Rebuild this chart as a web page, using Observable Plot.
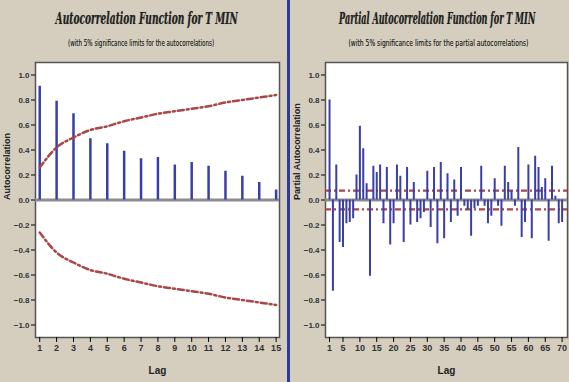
<!DOCTYPE html>
<html>
<head>
<meta charset="utf-8">
<script src="https://cdn.jsdelivr.net/npm/d3@7"></script>
<script src="https://cdn.jsdelivr.net/npm/@observablehq/plot@0.6"></script>
<style>
  html, body { margin: 0; padding: 0; }
  #root { position: relative; width: 569px; height: 382px; background: #d5cebf; overflow: hidden; font-family: "Liberation Sans", Arial, sans-serif; }
  .ttl { position: absolute; white-space: nowrap; font-family: "DejaVu Serif Condensed", "DejaVu Serif", "Liberation Serif", serif; font-weight: bold; font-style: italic; font-size: 17px; color: #222; transform-origin: center center; text-shadow: 0 0 1px rgba(0,0,0,0.35); }
  .sub { position: absolute; white-space: nowrap; font-family: "DejaVu Sans Condensed", "Liberation Sans", Arial, sans-serif; font-size: 9px; color: #222; transform-origin: center center; text-shadow: 0 0 0.5px rgba(0,0,0,0.4); }
  .panel { position: absolute; top: 55px; }
  #divider { position: absolute; left: 287px; top: 0; width: 2.5px; height: 382px; background: #2b3c9c; }
</style>
</head>
<body>
<div id="root">
  <div class="ttl" id="t1" data-cx="146" data-cy="18" data-w="182">Autocorrelation Function for T MIN</div>
  <div class="sub" id="s1" data-cx="141" data-cy="43" data-w="146">(with 5% significance limits for the autocorrelations)</div>
  <div class="ttl" id="t2" data-cx="437" data-cy="18" data-w="196">Partial Autocorrelation Function for T MIN</div>
  <div class="sub" id="s2" data-cx="438" data-cy="43" data-w="180">(with 5% significance limits for the partial autocorrelations)</div>
  <div class="panel" id="p1" style="left:0px"></div>
  <div class="panel" id="p2" style="left:290px"></div>
  <div id="divider"></div>
</div>
<script>
// ---- Data ----
const acfLag = [1, 2, 3, 4, 5, 6, 7, 8, 9, 10, 11, 12, 13, 14, 15];
const acfValue = [0.91, 0.79, 0.69, 0.49, 0.45, 0.39, 0.33, 0.34, 0.28, 0.30, 0.27, 0.23, 0.19, 0.14, 0.08];
const acfLimit = [0.26, 0.42, 0.50, 0.56, 0.59, 0.63, 0.66, 0.69, 0.71, 0.73, 0.75, 0.78, 0.80, 0.82, 0.84];

const pacfLag = [1, 2, 3, 4, 5, 6, 7, 8, 9, 10, 11, 12, 13, 14, 15, 16, 17, 18, 19, 20,
  21, 22, 23, 24, 25, 26, 27, 28, 29, 30, 31, 32, 33, 34, 35, 36, 37, 38, 39, 40,
  41, 42, 43, 44, 45, 46, 47, 48, 49, 50, 51, 52, 53, 54, 55, 56, 57, 58, 59, 60,
  61, 62, 63, 64, 65, 66, 67, 68, 69, 70];
const pacfValue = [0.80, -0.73, 0.28, -0.34, -0.38, -0.19, -0.18, -0.15, 0.20, 0.59,
  0.41, 0.13, -0.61, 0.27, 0.22, 0.28, -0.19, 0.26, -0.36, -0.19,
  0.28, 0.19, -0.34, 0.26, -0.20, 0.14, -0.18, -0.15, -0.10, 0.23,
  -0.22, 0.26, -0.35, 0.30, -0.31, 0.21, -0.18, 0.16, -0.13, 0.26,
  -0.05, -0.08, -0.29, -0.07, -0.05, 0.27, -0.05, -0.19, -0.13, 0.17,
  -0.05, -0.21, 0.27, 0.14, 0.07, -0.05, 0.42, -0.30, -0.18, 0.28,
  -0.31, 0.35, 0.26, 0.10, 0.17, -0.33, 0.27, 0.03, -0.19, -0.18];
const pacfLimit = 0.075;

const acfTicks = [1, 2, 3, 4, 5, 6, 7, 8, 9, 10, 11, 12, 13, 14, 15];
const pacfTicks = [1, 5, 10, 15, 20, 25, 30, 35, 40, 45, 50, 55, 60, 65, 70];
const yTicks = [-1.0, -0.8, -0.6, -0.4, -0.2, 0.0, 0.2, 0.4, 0.6, 0.8, 1.0];

// ---- Styles ----
const barColor = "#3a3ea8";
const limitColor = "#a94646";
const dash = "6,3,2,3";
const yDomain = [-1.1, 1.1];

const acfRows = acfLag.map((lag, i) => ({lag, value: acfValue[i], upper: acfLimit[i], lower: -acfLimit[i]}));
const pacfRows = pacfLag.map((lag, i) => ({lag, value: pacfValue[i]}));

function commonAxes(xTicks, yLabel) {
  return [
    Plot.axisY({ticks: yTicks, tickSize: 4, tickPadding: 2, tickFormat: d3.format(".1f"), label: null, fontWeight: "bold", fill: "#333", fontSize: 8}),
    Plot.axisX({ticks: xTicks, tickSize: 5, tickPadding: 2, tickFormat: d => d, label: null, fontWeight: "bold", fill: "#333", fontSize: 9}),
    Plot.text(["Lag"], {frameAnchor: "bottom", dy: 36, fontSize: 10, fontWeight: "bold", fill: "#222"}),
    Plot.text([yLabel], {frameAnchor: "left", dx: -28, rotate: -90, fontSize: 9, fontWeight: "bold", fill: "#222"})
  ];
}

const acfPlot = Plot.plot({
  width: 287, height: 327,
  marginLeft: 35, marginRight: 8, marginTop: 7, marginBottom: 45,
  style: {background: "transparent", fontFamily: "Liberation Sans, Arial, sans-serif"},
  x: {domain: [0.75, 15.2]},
  y: {domain: yDomain},
  marks: [
    Plot.frame({fill: "white", stroke: "#555", strokeWidth: 1.5}),
    Plot.ruleY([0], {stroke: "#8d8d8d", strokeWidth: 3}),
    Plot.ruleX(acfRows, {x: "lag", y1: 0, y2: "value", stroke: barColor, strokeWidth: 2.5}),
    Plot.line(acfRows, {x: "lag", y: "upper", stroke: limitColor, strokeWidth: 2.5, strokeDasharray: dash, curve: "monotone-x"}),
    Plot.line(acfRows, {x: "lag", y: "lower", stroke: limitColor, strokeWidth: 2.5, strokeDasharray: dash, curve: "monotone-x"}),
    ...commonAxes(acfTicks, "Autocorrelation")
  ]
});

const pacfPlot = Plot.plot({
  width: 279, height: 327,
  marginLeft: 35, marginRight: 2, marginTop: 7, marginBottom: 45,
  style: {background: "transparent", fontFamily: "Liberation Sans, Arial, sans-serif"},
  x: {domain: [-0.2, 71.6]},
  y: {domain: yDomain},
  marks: [
    Plot.frame({fill: "white", stroke: "#555", strokeWidth: 1.5}),
    Plot.ruleY([0], {stroke: "#8d8d8d", strokeWidth: 3}),
    Plot.ruleY([pacfLimit, -pacfLimit], {stroke: limitColor, strokeWidth: 2.2, strokeDasharray: dash}),
    Plot.ruleX(pacfRows, {x: "lag", y1: 0, y2: "value", stroke: barColor, strokeWidth: 2}),
    ...commonAxes(pacfTicks, "Partial Autocorrelation")
  ]
});

document.getElementById("p1").appendChild(acfPlot);
document.getElementById("p2").appendChild(pacfPlot);

// position & condense titles to match widths
for (const el of document.querySelectorAll(".ttl, .sub")) {
  const w = el.offsetWidth, h = el.offsetHeight;
  const cx = +el.dataset.cx, cy = +el.dataset.cy, tw = +el.dataset.w;
  el.style.left = (cx - w / 2) + "px";
  el.style.top = (cy - h / 2) + "px";
  el.style.transform = `scaleX(${tw / w})`;
}
</script>
</body>
</html>
